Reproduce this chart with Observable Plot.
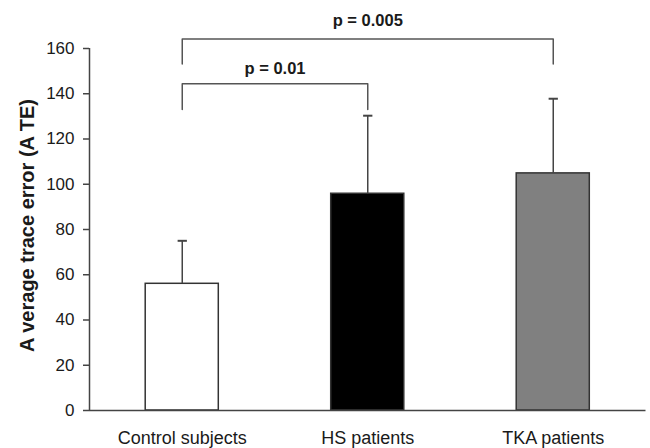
<!DOCTYPE html>
<html><head><meta charset="utf-8">
<script src="https://cdn.jsdelivr.net/npm/d3@7"></script>
<script src="https://cdn.jsdelivr.net/npm/@observablehq/plot@0.6"></script>
<style>
body{margin:0;background:#fff} svg{display:block}
</style>
</head><body><div id="chart"></div>
<script>
const categories = ["Control subjects", "HS patients", "TKA patients"];
const means = [56, 95.8, 104.8];
const upper = [75, 130.3, 137.8];
const fills = ["#ffffff", "#000000", "#808080"];
const yTicks = [0, 20, 40, 60, 80, 100, 120, 140, 160];
const yLabel = "A verage trace error (A TE)";
const bracketFrom = [0, 0];
const bracketTo = [1, 2];
const bracketTop = [144.4, 164.2];
const bracketLeg = [133, 153.2];
const pValues = ["0.01", "0.005"];
const pLabelY = [151.2, 172.4];

const data = categories.map((c, i) => ({i, c, mean: means[i], upper: upper[i], fill: fills[i]}));
const brackets = pValues.map((p, k) => ({k, from: bracketFrom[k], to: bracketTo[k], top: bracketTop[k], leg: bracketLeg[k], p, labelY: pLabelY[k]}));
const bracketPts = brackets.flatMap(b => [
  {k: b.k, x: b.from, y: b.leg}, {k: b.k, x: b.from, y: b.top},
  {k: b.k, x: b.to, y: b.top}, {k: b.k, x: b.to, y: b.leg}
]);
const font = "'Liberation Sans', Arial, Helvetica, sans-serif";
const halfBar = 0.197, halfCap = 0.025;

const plot = Plot.plot({
  width: 650, height: 448,
  marginLeft: 89, marginRight: 4.5, marginTop: 48, marginBottom: 38,
  style: {fontFamily: font, background: "#fff", color: "#1a1a1a", overflow: "visible"},
  x: {type: "linear", domain: [-0.5, 2.5], axis: null},
  y: {domain: [0, 160], axis: null},
  color: {type: "identity"},
  marks: [
    Plot.rect(data, {x1: d => d.i - halfBar, x2: d => d.i + halfBar, y1: 0, y2: "mean", fill: "fill", stroke: "#333", strokeWidth: 1.5}),
    Plot.ruleX(data, {x: "i", y1: "mean", y2: "upper", stroke: "#444", strokeWidth: 1.5}),
    Plot.link(data, {x1: d => d.i - halfCap, x2: d => d.i + halfCap, y1: "upper", y2: "upper", stroke: "#444", strokeWidth: 2}),
    Plot.line(bracketPts, {x: "x", y: "y", z: "k", stroke: "#555", strokeWidth: 1.5}),
    Plot.text(brackets, {x: b => (b.from + b.to) / 2, y: "labelY", text: b => "p = " + b.p, fontSize: 16.5, fontWeight: "bold", fill: "#1a1a1a", ariaLabel: "pval"}),
    // y axis: line, tick marks, labels
    Plot.ruleX([-0.5], {y1: 0, y2: 160, stroke: "#444", strokeWidth: 1.5}),
    Plot.ruleY(yTicks, {x1: -0.5, x2: -0.5, insetLeft: -6, stroke: "#444", strokeWidth: 1.5}),
    Plot.text(yTicks, {x: -0.5, y: d => d, text: d => String(d), dx: -15, textAnchor: "end", lineAnchor: "middle", fontSize: 17, fill: "#1a1a1a"}),
    // x axis
    Plot.ruleY([0], {stroke: "#444", strokeWidth: 1.5}),
    Plot.text(data, {x: "i", y: 0, text: "c", dy: 28, lineAnchor: "middle", fontSize: 18, fill: "#1a1a1a"}),
    Plot.text([yLabel], {frameAnchor: "left", dx: -62, dy: -4, rotate: -90, textAnchor: "middle", lineAnchor: "middle", fontSize: 20, fontWeight: "bold", fill: "#1a1a1a"})
  ]
});

const svgSel = d3.select(plot);
svgSel.selectAll('g[aria-label="pval"] text').each(function() {
  const t = this.textContent;
  const rest = t.slice(1);
  const sel = d3.select(this);
  sel.text(null);
  sel.append("tspan").attr("font-style", "italic").text("p");
  sel.append("tspan").text(rest);
});

document.getElementById("chart").appendChild(plot);
</script>
</body></html>
